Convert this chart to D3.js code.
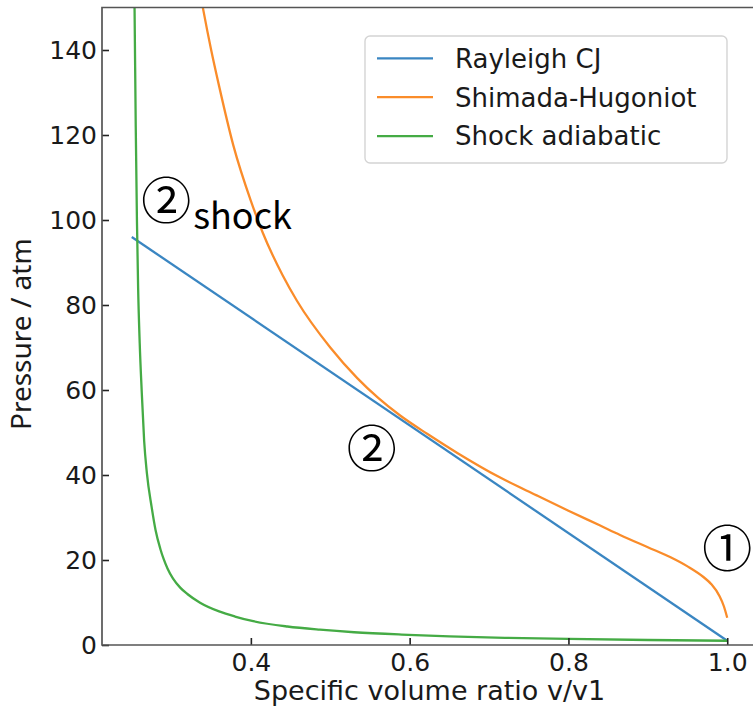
<!DOCTYPE html>
<html>
<head>
<meta charset="utf-8">
<script src="https://cdn.jsdelivr.net/npm/d3@7"></script>
<style>
  body { margin: 0; background: #fff; }
  svg { display: block; }
</style>
</head>
<body>
<svg id="chart" width="753" height="707"></svg>
<script>
// Rayleigh line through the initial state and the CJ point
const rayleighV = [0.25, 1.0];
const rayleighP = [96.0, 1.0];

// Shimada-Hugoniot curve
const hugoniotV = [0.330, 0.340, 0.350, 0.360, 0.378, 0.400, 0.415, 0.440, 0.458, 0.500,
                   0.534, 0.560, 0.588, 0.622, 0.660, 0.714, 0.760, 0.800, 0.840, 0.865,
                   0.900, 0.928, 0.950, 0.970, 0.980, 0.990, 0.996, 1.000];
const hugoniotP = [160, 149.5, 140, 131.5, 117.5, 104.5, 97, 87, 81, 70,
                   62.8, 58.2, 54.0, 49.7, 45.2, 39.4, 35.2, 31.6, 28.1, 25.9,
                   23.0, 20.7, 18.5, 16.0, 14.3, 11.6, 9.0, 6.4];

// Shock adiabatic (non-reactive Hugoniot)
const shockV = [0.2525, 0.2535, 0.2550, 0.2565, 0.2580, 0.2600, 0.2627, 0.2656, 0.2690, 0.2750,
                0.2800, 0.2860, 0.2900, 0.2950, 0.3020, 0.3110, 0.3200, 0.3360, 0.3600, 0.3800,
                0.4030, 0.4460, 0.4870, 0.5300, 0.5900, 0.6500, 0.7200, 0.8000, 0.9000, 1.0000];
const shockP = [165, 150, 122, 100, 84, 71, 59, 48, 40.5, 32.5,
                27.0, 22.6, 20.3, 18.0, 15.6, 13.5, 12.0, 9.95, 7.9, 6.7,
                5.6, 4.35, 3.6, 3.0, 2.45, 2.05, 1.7, 1.42, 1.18, 1.0];

const xTicks = [0.4, 0.6, 0.8, 1.0];
const yTicks = [0, 20, 40, 60, 80, 100, 120, 140];

const seriesNames = ["Rayleigh CJ", "Shimada-Hugoniot", "Shock adiabatic"];
const seriesColors = ["#3a86c2", "#fa8c2a", "#45ab45"];

// State markers: label text and anchor in data coordinates
const stateLabels = ["②", "②", "①"];
const stateV = [0.2933, 0.5524, 1.0];
const stateP = [105.3, 47.1, 23.6];

const svg = d3.select("#chart");
const plotLeft = 102, plotRight = 757, plotTop = 7.5, plotBottom = 645;

const x = d3.scaleLinear().domain([0.2125, 1.0375]).range([plotLeft, plotRight]);
const y = d3.scaleLinear().domain([0, 150]).range([plotBottom, plotTop]);

svg.append("defs").append("clipPath").attr("id", "plotclip")
  .append("rect").attr("x", plotLeft).attr("y", plotTop)
  .attr("width", plotRight - plotLeft).attr("height", plotBottom - plotTop);

const series = [
  { v: rayleighV, p: rayleighP },
  { v: hugoniotV, p: hugoniotP },
  { v: shockV, p: shockP }
];

const line = d3.line().x(d => x(d[0])).y(d => y(d[1])).curve(d3.curveMonotoneX);

const plot = svg.append("g").attr("clip-path", "url(#plotclip)");
series.forEach((s, i) => {
  plot.append("path")
    .datum(s.v.map((v, k) => [v, s.p[k]]))
    .attr("d", line)
    .attr("fill", "none")
    .attr("stroke", seriesColors[i])
    .attr("stroke-width", 2.3)
    .attr("stroke-linejoin", "round");
});

// Axes with inward ticks
const tickFont = "'DejaVu Sans', sans-serif";
const xAxis = svg.append("g").attr("transform", `translate(0,${plotBottom})`)
  .call(d3.axisBottom(x).tickValues(xTicks).tickFormat(d3.format(".1f"))
    .tickSizeInner(-7).tickSizeOuter(0).tickPadding(8));
const yAxis = svg.append("g").attr("transform", `translate(${plotLeft},0)`)
  .call(d3.axisLeft(y).tickValues(yTicks).tickFormat(d3.format("d"))
    .tickSizeInner(-7).tickSizeOuter(0).tickPadding(5));

[xAxis, yAxis].forEach(g => {
  g.select(".domain").remove();
  g.selectAll(".tick line").attr("stroke", "#222").attr("stroke-width", 1.6);
  g.selectAll(".tick text").attr("fill", "#1a1a1a")
    .style("font-family", tickFont).style("font-size", "25px");
});

// Spines: left, bottom, top (right lies at the edge)
svg.append("path")
  .attr("d", `M${plotRight},${plotTop}H${plotLeft}V${plotBottom}H${plotRight}`)
  .attr("fill", "none").attr("stroke", "#555").attr("stroke-width", 1.7);

// Axis titles
svg.append("text")
  .attr("x", (plotLeft + plotRight) / 2).attr("y", 700)
  .attr("text-anchor", "middle")
  .style("font-family", tickFont).style("font-size", "27px").attr("fill", "#1a1a1a")
  .text("Specific volume ratio v/v1");

svg.append("text")
  .attr("transform", `translate(31,${(plotTop + plotBottom) / 2 + 8}) rotate(-90)`)
  .attr("text-anchor", "middle")
  .style("font-family", "'Noto Sans', sans-serif").style("font-size", "28px").attr("fill", "#1a1a1a")
  .text("Pressure / atm");

// Legend
const legend = svg.append("g");
legend.append("rect")
  .attr("x", 365).attr("y", 36).attr("width", 362).attr("height", 127)
  .attr("rx", 5).attr("fill", "#fff").attr("fill-opacity", 0.8)
  .attr("stroke", "#d4d4d4").attr("stroke-width", 1.4);
seriesNames.forEach((name, i) => {
  const cy = 58.3 + i * 38.9;
  legend.append("line")
    .attr("x1", 377).attr("x2", 433).attr("y1", cy).attr("y2", cy)
    .attr("stroke", seriesColors[i]).attr("stroke-width", 2.3);
  legend.append("text")
    .attr("x", 455).attr("y", cy).attr("dy", "0.36em")
    .style("font-family", tickFont).style("font-size", "26px").attr("fill", "#1a1a1a")
    .text(name);
});

// State annotations
const cjk = "'Noto Sans CJK JP', sans-serif";
stateLabels.forEach((t, i) => {
  svg.append("text")
    .attr("x", x(stateV[i])).attr("y", y(stateP[i]))
    .attr("text-anchor", "middle").attr("dominant-baseline", "central")
    .style("font-family", cjk).style("font-size", "50px").attr("fill", "#000")
    .text(t);
});
svg.append("text")
  .attr("x", x(0.3273)).attr("y", y(97.9))
  .style("font-family", cjk).style("font-size", "36px").attr("fill", "#000")
  .text("shock");
</script>
</body>
</html>
